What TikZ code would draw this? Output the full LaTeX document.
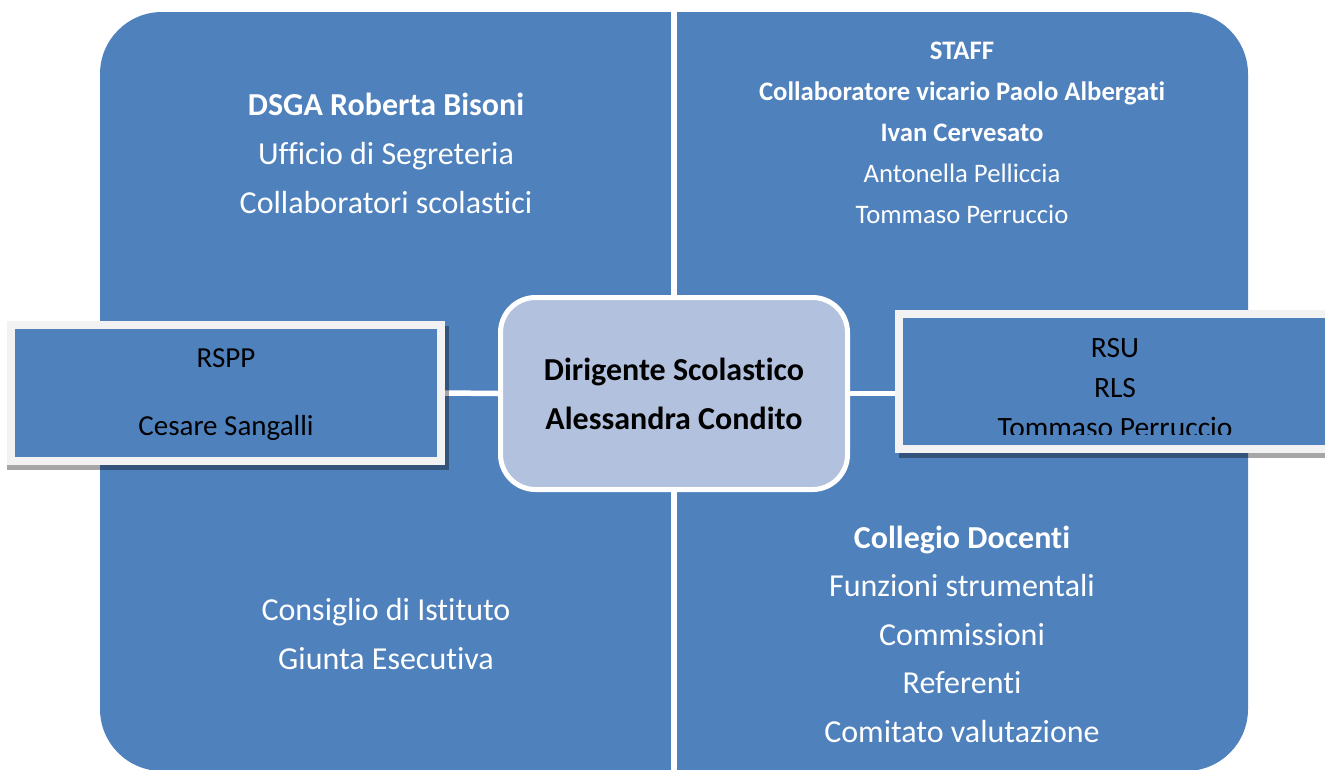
\documentclass[tikz,border=0pt]{standalone}
\usepackage{fontspec}
\setmainfont{Carlito}[Ligatures=NoCommon]
\usepackage{tikz}
\usetikzlibrary{positioning,backgrounds}

\definecolor{quadblue}{HTML}{4F81BD}
\definecolor{centerfill}{HTML}{B2C1DD}
\definecolor{framegray}{HTML}{F2F2F2}

\begin{document}
\begin{tikzpicture}[x=1pt, y=-1pt,
    quadtext/.style={text=white, align=center, font=\fontsize{32}{49}\selectfont},
    sidebox/.style={draw=framegray, fill=quadblue, line width=8pt, inner sep=0pt},
    sidetext/.style={text=black, align=center, font=\fontsize{29.5}{40}\selectfont},
    gapline/.style={draw=white, line width=5.5pt}]
      \useasboundingbox (0, 0) rectangle (1325, 769);
      \clip (0, 0) rectangle (1325, 769);
      \coordinate (topmid) at (674, 0);
      \coordinate (botmid) at (674, 771);
      \node[draw=white, fill=centerfill, line width=5pt, rounded corners=35pt,
            minimum width=347pt, minimum height=192pt] (dir) at (674, 393.5) {};
      \node[sidebox, minimum width=430pt, minimum height=136pt] (rspp) at (226, 393) {};
      \node[sidebox, minimum width=480pt, minimum height=135pt] (rsu) at (1139, 381.5) {};
      \begin{scope}[on background layer]
        \fill[quadblue, rounded corners=62pt] (100, 12) rectangle (1248, 771);
        \draw[gapline] (dir.north) -- (topmid);
        \draw[gapline] (dir.south) -- (botmid);
        \draw[gapline] (rspp.east) -- (dir.west);
        \draw[gapline] (dir.east) -- (dir.east -| rsu.west);
        \fill[black, opacity=.35] (7, 465) rectangle (449, 470);
        \fill[black, opacity=.35] (445, 326) rectangle (449, 465);
        \fill[black, opacity=.35] (899, 453) rectangle (1325, 458);
      \end{scope}
      \node[align=center, font=\bfseries\fontsize{32}{49}\selectfont] (dirtext) at (dir) {Dirigente Scolastico\\Alessandra Condito};
      \node[quadtext] (dsga) at (386, 153) {\textbf{DSGA Roberta Bisoni}\\Ufficio di Segreteria\\Collaboratori scolastici};
      \node[quadtext, font=\fontsize{26.7}{41}\selectfont] (staff) at (962, 133) {\textbf{STAFF}\\\textbf{Collaboratore vicario Paolo Albergati}\\\textbf{Ivan Cervesato}\\Antonella Pelliccia\\Tommaso Perruccio};
      \node[quadtext] (consiglio) at (386, 633.5) {Consiglio di Istituto\\Giunta Esecutiva};
      \node[quadtext, font=\fontsize{32}{48.5}\selectfont] (collegio) at (962, 634) {\textbf{Collegio Docenti}\\Funzioni strumentali\\Commissioni\\Referenti\\Comitato valutazione};
      \node[sidetext, font=\fontsize{29}{68}\selectfont] (rspptext) at (226, 395) {RSPP\\Cesare Sangalli};
      \begin{scope}
        \clip (903, 317) rectangle (1325, 434);
        \node[sidetext] (rsutext) at (1115, 388) {RSU\\RLS\\Tommaso Perruccio};
      \end{scope}
\end{tikzpicture}
\end{document}
